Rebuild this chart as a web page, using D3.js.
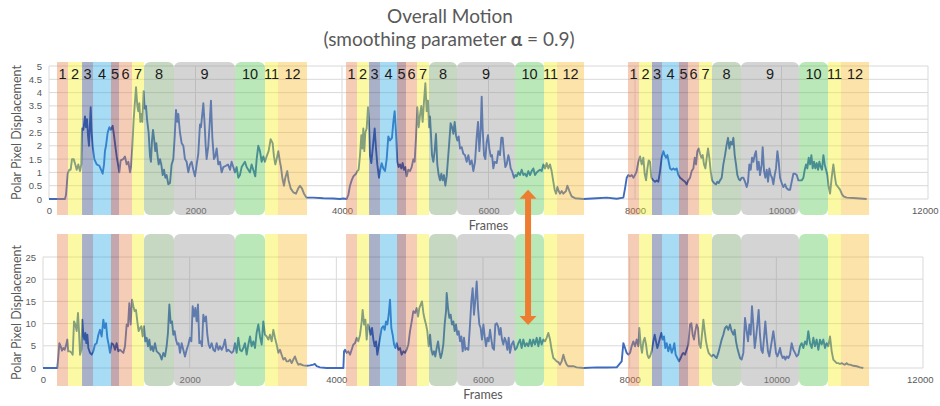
<!DOCTYPE html>
<html>
<head>
<meta charset="utf-8">
<script src="https://cdn.jsdelivr.net/npm/d3@7"></script>
<style>
  body { margin: 0; background: #fff; }
  svg { display: block; font-family: Lato, "Open Sans", sans-serif; }
  .tick text { fill: #595959; font-size: 9.5px; }
  .grid line { stroke: #d9d9d9; stroke-width: 1; }
</style>
</head>
<body>
<svg id="chart" width="940" height="406"></svg>
<script>
// --- data ---
const xTicks = [0, 2000, 4000, 6000, 8000, 10000, 12000];
const topYTicks = [0, 0.5, 1, 1.5, 2, 2.5, 3, 3.5, 4, 4.5, 5];
const bottomYTicks = [0, 5, 10, 15, 20, 25];

const bandLabels = ["1", "2", "3", "4", "5", "6", "7", "8", "9", "10", "11", "12"];
// band edges (frames) for the three repetitions
const group1Edges = [109, 259, 451, 601, 846, 956, 1133, 1297, 1706, 2539, 2949, 3126, 3522];
const group2Edges = [4055, 4205, 4369, 4519, 4751, 4874, 5024, 5188, 5570, 6362, 6758, 6935, 7304];
const group3Edges = [7904, 8055, 8232, 8369, 8601, 8724, 8874, 9051, 9447, 10239, 10635, 10812, 11195];

// [frame, displacement] smoothed, alpha = 0.9
const topSeries = [
  [0,0],[218,0],[232,0.15],[255,0.95],[278,1.1],[296,1.1],[314,1.5],[337,1.5],[359,1.3],[378,1.1],[400,1.3],[423,1.05],[441,1.3],
  [450,2.65],[469,2.6],[491,3.1],[505,2.7],[519,3.0],[532,2.4],[546,2.0],[569,3.45],[582,2.5],[596,2.0],[619,1.5],[651,1.3],
  [687,1.25],[710,1.1],[733,0.95],[751,1.3],[764,1.8],[778,2.0],[801,2.5],[824,2.7],[842,2.6],[869,2.75],[887,2.4],[905,2.0],
  [924,1.6],[942,1.3],[960,1.0],[978,1.45],[1015,1.5],[1037,1.6],[1060,1.3],[1083,1.4],[1106,1.0],[1119,1.2],[1138,2.0],
  [1156,3.0],[1188,4.2],[1206,3.5],[1219,3.3],[1233,3.6],[1247,2.9],[1260,3.2],[1274,2.9],[1292,4.05],[1306,3.4],[1324,3.5],
  [1338,3.0],[1360,2.5],[1379,1.6],[1392,1.4],[1406,2.2],[1420,2.6],[1433,2.3],[1451,1.8],[1465,2.1],[1479,1.7],[1497,1.3],
  [1515,1.5],[1533,1.3],[1552,0.9],[1570,1.1],[1588,0.8],[1606,0.9],[1629,0.55],[1652,0.6],[1674,1.3],[1697,1.5],[1715,2.3],
  [1734,3.35],[1752,2.9],[1765,3.2],[1788,2.5],[1811,2.1],[1834,2.0],[1856,1.5],[1879,1.4],[1902,1.0],[1925,1.3],[1947,1.4],
  [1970,1.1],[1993,0.85],[2016,1.3],[2038,1.7],[2061,2.8],[2075,2.7],[2107,3.6],[2125,2.8],[2139,2.0],[2152,1.5],[2175,2.0],
  [2193,2.8],[2211,3.7],[2230,2.3],[2252,1.5],[2270,1.6],[2289,1.9],[2311,1.3],[2334,1.4],[2357,1.0],[2380,1.2],[2416,1.25],
  [2443,1.3],[2471,1.1],[2493,1.4],[2516,1.2],[2539,1.0],[2562,1.2],[2584,0.8],[2607,0.9],[2630,1.2],[2675,1.4],[2698,1.2],
  [2744,1.0],[2766,1.3],[2789,1.1],[2816,0.85],[2835,1.5],[2857,2.0],[2880,1.8],[2903,1.4],[2926,1.6],[2948,1.4],[2971,1.6],
  [2998,1.8],[3026,2.25],[3053,2.1],[3071,1.6],[3089,1.3],[3108,1.5],[3130,1.8],[3153,1.4],[3167,1.2],[3185,0.8],[3208,0.5],
  [3226,0.8],[3253,1.05],[3271,0.7],[3299,0.4],[3335,0.25],[3372,0.2],[3403,0.4],[3426,0.5],[3453,0.4],[3481,0.2],[3517,0.05],
  [3608,0.05],[3745,0.03],[3881,0.02],[3972,0],
  [4018,0.02],[4064,0],[4086,0.15],[4109,0.5],[4132,0.7],[4155,0.85],[4191,0.95],[4209,1.05],[4227,1.1],[4246,1.65],[4264,2.4],
  [4277,1.9],[4291,2.65],[4305,1.8],[4318,2.5],[4337,2.65],[4355,3.45],[4368,2.9],[4382,1.65],[4400,1.35],[4428,2.15],[4446,2.65],
  [4464,1.9],[4482,1.3],[4505,0.8],[4519,1.05],[4541,1.35],[4564,1.15],[4587,1.05],[4610,1.5],[4632,2.35],[4655,2.2],[4682,2.3],
  [4701,2.9],[4719,3.3],[4737,2.5],[4755,1.4],[4773,1.2],[4792,1.3],[4810,1.15],[4828,1.35],[4846,1.1],[4865,1.2],[4883,0.85],
  [4905,1.1],[4928,1.05],[4951,1.2],[4974,1.5],[4992,1.4],[5010,2.3],[5028,3.45],[5047,2.7],[5065,3.15],[5083,3.5],[5101,2.9],
  [5119,3.65],[5138,4.35],[5156,3.3],[5174,3.7],[5188,2.7],[5201,3.1],[5215,2.4],[5229,1.65],[5247,1.4],[5265,1.8],[5283,2.45],
  [5301,1.3],[5320,0.9],[5338,0.7],[5356,0.95],[5374,0.7],[5392,0.9],[5411,0.5],[5429,0.85],[5447,1.5],[5465,2.15],[5483,2.85],
  [5502,2.7],[5520,2.45],[5538,2.9],[5556,2.4],[5574,2.2],[5593,2.35],[5611,1.9],[5634,1.95],[5656,1.7],[5679,1.65],[5702,1.4],
  [5725,1.65],[5747,1.3],[5770,1.45],[5793,1.05],[5816,1.4],[5838,2.3],[5857,2.9],[5875,1.8],[5893,2.6],[5907,3.85],[5920,2.65],
  [5939,1.65],[5957,1.5],[5975,2.15],[5993,2.4],[6011,1.9],[6030,1.6],[6048,1.65],[6066,1.15],[6084,1.4],[6112,1.35],[6134,1.8],
  [6157,1.65],[6175,2.3],[6193,2.3],[6212,1.65],[6230,1.2],[6248,1.3],[6271,1.65],[6284,1.5],[6303,1.15],[6321,1.05],[6348,0.8],
  [6366,0.9],[6385,0.85],[6407,1.0],[6430,0.9],[6453,1.1],[6476,0.9],[6498,0.95],[6521,0.85],[6544,1.05],[6567,0.9],[6589,1.05],
  [6612,1.15],[6635,0.9],[6658,1.0],[6680,1.05],[6703,1.1],[6726,1.05],[6749,1.3],[6771,1.15],[6794,1.35],[6817,1.15],[6840,1.3],
  [6862,1.05],[6885,0.65],[6903,0.35],[6922,0.2],[6940,0.45],[6958,0.3],[6976,0.2],[6999,0.3],[7022,0.2],[7058,0.3],[7076,0.5],
  [7104,0.3],[7135,0.1],[7181,0.03],[7295,0],[7477,0.03],[7613,0.05],[7750,0.01],[7841,0.05],
  [7864,0.4],[7887,0.8],[7909,0.9],[7932,0.85],[7955,0.9],[7978,0.8],[8000,0.9],[8023,1.05],[8046,1.4],[8069,1.6],[8091,1.3],
  [8114,1.55],[8132,0.95],[8151,0.7],[8169,1.15],[8187,1.45],[8205,1.4],[8223,0.8],[8251,0.7],[8273,0.65],[8296,0.7],[8319,0.65],
  [8342,1.05],[8364,1.55],[8387,1.8],[8405,1.65],[8424,1.55],[8442,1.65],[8460,1.4],[8478,1.15],[8501,1.1],[8524,1.15],[8546,1.1],
  [8569,1.15],[8592,0.9],[8615,0.8],[8637,0.75],[8660,0.7],[8683,0.65],[8706,0.55],[8728,0.7],[8751,0.8],[8774,1.05],[8797,1.15],
  [8815,1.55],[8833,1.3],[8851,1.8],[8870,1.9],[8888,1.7],[8906,1.55],[8924,1.65],[8942,1.3],[8961,1.15],[8979,1.55],[8997,1.9],
  [9015,1.55],[9033,1.05],[9052,0.7],[9079,0.6],[9106,0.55],[9124,0.65],[9143,0.6],[9161,0.7],[9184,0.8],[9206,1.3],[9229,1.65],
  [9252,2.05],[9270,2.3],[9288,1.9],[9306,2.15],[9325,2.05],[9343,2.3],[9361,1.65],[9379,1.3],[9397,0.9],[9416,0.75],[9434,0.7],
  [9457,0.8],[9479,0.8],[9502,0.65],[9525,0.45],[9543,0.65],[9561,1.3],[9580,1.1],[9598,1.55],[9616,1.4],[9634,1.65],[9652,1.8],
  [9671,1.1],[9689,1.4],[9707,0.9],[9730,1.3],[9743,1.95],[9762,1.05],[9780,0.8],[9798,1.1],[9816,0.65],[9834,1.15],[9853,0.9],
  [9871,0.8],[9889,0.55],[9907,0.9],[9925,1.15],[9944,1.8],[9962,1.4],[9980,0.8],[10003,0.6],[10026,0.45],[10048,0.55],[10071,0.4],
  [10094,0.35],[10117,0.35],[10139,0.65],[10162,0.95],[10185,0.95],[10208,0.9],[10230,0.7],[10253,0.7],[10276,0.7],[10299,0.8],
  [10317,1.1],[10335,1.3],[10353,1.15],[10371,1.55],[10390,1.3],[10408,1.65],[10426,1.15],[10444,1.4],[10462,1.15],[10481,1.35],
  [10499,1.1],[10517,1.4],[10535,1.2],[10553,1.1],[10572,1.65],[10590,1.3],[10608,1.1],[10626,0.9],[10644,0.45],[10663,0.2],
  [10685,0.8],[10708,1.3],[10726,0.9],[10745,0.55],[10772,0.45],[10799,0.35],[10822,0.2],[10845,0.1],[10890,0.05],[11027,0.03],
  [11163,0]
];

const bottomSeries = [
  [0,0],[195,0],[209,2.6],[223,5.6],[241,4.9],[259,3.9],[277,4.5],[295,4.1],[314,5.1],[332,6.4],[345,3.75],[368,3.75],[391,3.4],
  [405,3.0],[423,10.5],[441,9.8],[459,8.3],[477,12.4],[491,8.3],[505,3.0],[523,4.1],[536,10.9],[550,7.5],[564,6.4],[577,7.9],
  [591,5.6],[605,7.5],[618,4.5],[641,3.4],[664,3.0],[686,3.75],[709,5.3],[732,5.6],[755,7.5],[777,8.6],[800,7.1],[823,10.9],
  [841,9.0],[859,10.1],[877,6.8],[895,5.3],[914,3.4],[936,5.6],[959,5.3],[982,4.1],[1004,5.6],[1027,3.75],[1050,4.1],[1073,3.75],
  [1095,3.4],[1118,4.9],[1141,9.8],[1159,9.4],[1177,14.6],[1195,9.8],[1214,15.4],[1232,13.9],[1250,12.8],[1268,13.1],[1286,10.5],
  [1304,8.3],[1323,9.0],[1341,9.4],[1359,7.1],[1377,9.4],[1395,6.0],[1414,6.8],[1432,4.9],[1450,6.4],[1468,4.1],[1486,4.9],
  [1504,3.75],[1527,5.6],[1550,3.75],[1573,3.4],[1595,3.0],[1618,1.9],[1641,3.4],[1664,2.6],[1686,4.9],[1704,7.9],[1723,14.3],
  [1741,10.1],[1759,10.5],[1777,7.5],[1795,8.3],[1813,6.4],[1832,5.3],[1850,5.6],[1868,3.4],[1891,5.6],[1913,4.1],[1936,2.6],
  [1959,4.1],[1982,5.3],[2004,6.8],[2023,6.0],[2041,13.9],[2059,11.6],[2077,13.5],[2095,10.5],[2113,14.3],[2132,5.6],[2150,6.0],
  [2168,4.9],[2186,12.0],[2204,10.5],[2223,11.6],[2241,7.5],[2259,5.3],[2277,4.5],[2300,5.6],[2323,4.1],[2345,3.75],[2368,5.6],
  [2391,4.1],[2413,4.9],[2436,4.1],[2459,4.9],[2482,6.4],[2504,3.75],[2527,4.1],[2550,3.75],[2573,3.4],[2595,3.75],[2618,5.6],
  [2641,3.4],[2663,6.8],[2686,4.1],[2709,3.75],[2732,4.5],[2754,5.6],[2777,3.0],[2800,5.3],[2823,7.1],[2845,4.9],[2868,6.0],
  [2891,4.5],[2913,7.9],[2936,9.8],[2959,7.1],[2982,5.3],[3004,10.5],[3027,7.5],[3050,7.1],[3073,6.4],[3095,7.5],[3118,6.0],
  [3141,8.6],[3163,6.8],[3186,5.3],[3209,3.4],[3232,4.1],[3254,3.0],[3277,1.9],[3300,2.25],[3322,1.5],[3345,1.5],[3368,1.9],
  [3391,1.1],[3413,1.9],[3436,2.6],[3459,1.5],[3482,0.75],[3504,0.9],[3550,0.6],[3595,0.5],[3641,0.6],[3686,0.75],[3709,0.9],
  [3732,0.4],[3777,0.15],[3868,0],
  [4096,0],[4105,3.75],[4119,4.1],[4141,3.4],[4164,3.75],[4187,3.0],[4209,4.1],[4232,5.3],[4255,5.6],[4278,6.8],[4300,6.0],
  [4323,7.5],[4346,10.5],[4359,13.1],[4378,9.8],[4396,10.9],[4414,6.4],[4432,9.8],[4450,9.0],[4468,7.5],[4487,9.0],[4505,6.4],
  [4523,4.9],[4541,6.0],[4559,3.0],[4578,4.9],[4596,6.8],[4618,9.0],[4641,9.4],[4659,8.6],[4678,10.5],[4696,9.8],[4714,12.0],
  [4732,15.4],[4750,9.0],[4768,7.5],[4787,5.3],[4805,4.5],[4823,5.6],[4846,4.1],[4868,4.5],[4891,3.0],[4914,3.75],[4937,3.4],
  [4959,4.1],[4982,5.3],[5005,8.3],[5028,10.5],[5050,12.8],[5073,12.4],[5096,13.5],[5114,11.6],[5132,13.5],[5150,14.3],[5168,15.0],
  [5187,12.4],[5205,10.9],[5223,9.8],[5241,8.3],[5259,4.9],[5278,7.5],[5296,4.1],[5314,3.0],[5332,3.75],[5350,2.6],[5368,4.5],
  [5387,6.0],[5405,3.75],[5423,2.25],[5441,3.4],[5459,5.3],[5477,9.8],[5496,12.8],[5505,16.9],[5523,13.5],[5541,11.3],[5559,12.0],
  [5577,9.8],[5596,10.5],[5614,8.3],[5632,9.8],[5650,7.5],[5668,8.3],[5687,6.0],[5705,7.1],[5723,3.75],[5741,6.8],[5759,4.1],
  [5777,4.5],[5800,4.1],[5823,9.8],[5841,15.0],[5859,18.0],[5877,12.0],[5896,15.4],[5914,19.5],[5932,13.5],[5950,9.8],[5968,9.0],
  [5986,6.4],[6005,9.8],[6023,7.1],[6041,4.9],[6059,6.8],[6077,6.0],[6096,8.6],[6114,6.4],[6132,4.5],[6150,4.1],[6168,9.8],
  [6187,10.1],[6205,9.4],[6223,7.5],[6241,9.0],[6259,6.4],[6277,5.3],[6296,6.8],[6314,6.0],[6332,4.1],[6350,6.8],[6368,3.4],
  [6391,5.3],[6414,6.0],[6437,4.1],[6459,4.5],[6482,5.6],[6505,6.4],[6527,4.5],[6550,6.4],[6573,4.9],[6596,5.6],[6618,4.9],
  [6641,6.4],[6664,4.9],[6686,6.4],[6709,5.3],[6732,6.8],[6755,4.9],[6777,6.8],[6800,5.3],[6823,6.4],[6846,6.0],[6868,6.8],
  [6891,7.9],[6914,6.4],[6936,4.1],[6959,2.25],[6982,1.9],[7005,1.5],[7027,1.35],[7050,0.75],[7073,1.5],[7096,3.0],[7118,1.65],
  [7141,0.75],[7164,0.4],[7232,0.4],[7277,0.15],[7368,0],[7550,0.15],[7686,0.1],[7823,0.15],
  [7891,1.5],[7914,5.6],[7937,4.5],[7959,3.4],[7982,3.0],[8005,3.4],[8027,4.9],[8050,6.0],[8073,4.9],[8096,6.4],[8118,4.9],
  [8132,9.0],[8150,5.3],[8168,3.4],[8187,6.0],[8205,6.8],[8223,5.3],[8241,3.0],[8259,2.25],[8277,2.6],[8300,3.75],[8323,6.0],
  [8341,7.5],[8359,6.0],[8377,4.5],[8396,5.6],[8414,6.8],[8432,7.9],[8450,6.4],[8468,7.1],[8486,4.5],[8505,5.6],[8527,3.75],
  [8550,5.3],[8573,3.4],[8595,4.5],[8609,5.6],[8627,3.0],[8650,2.25],[8673,1.5],[8695,2.25],[8714,3.0],[8732,3.4],[8755,3.0],
  [8777,4.1],[8800,5.3],[8823,9.8],[8841,10.1],[8859,7.5],[8877,6.4],[8895,8.3],[8914,9.8],[8932,9.0],[8950,5.3],[8968,4.5],
  [8986,7.5],[9005,10.9],[9023,8.3],[9041,6.0],[9059,4.5],[9077,3.4],[9095,3.0],[9118,2.6],[9141,3.0],[9164,2.6],[9186,2.25],
  [9209,3.4],[9232,4.9],[9255,6.4],[9277,7.5],[9300,9.0],[9323,9.4],[9346,8.6],[9368,9.8],[9391,8.3],[9414,7.5],[9432,8.6],
  [9450,6.0],[9468,4.5],[9486,3.4],[9505,2.25],[9527,1.9],[9550,3.4],[9573,11.3],[9595,8.3],[9614,6.0],[9632,9.8],[9650,7.5],
  [9668,13.9],[9686,9.8],[9705,4.5],[9723,6.8],[9741,9.8],[9759,13.1],[9777,7.5],[9795,4.1],[9814,3.4],[9832,6.8],[9850,10.5],
  [9868,6.8],[9886,3.75],[9905,2.6],[9923,4.5],[9941,6.4],[9959,8.3],[9977,6.0],[9995,3.4],[10014,2.6],[10032,3.4],[10050,4.5],
  [10068,3.0],[10086,2.25],[10105,2.6],[10123,1.9],[10141,2.6],[10164,2.25],[10186,3.0],[10209,5.6],[10232,4.1],[10255,3.4],
  [10277,2.6],[10300,3.0],[10323,4.9],[10345,5.6],[10368,4.5],[10391,6.0],[10414,5.3],[10436,8.3],[10459,5.6],[10482,4.5],
  [10505,6.8],[10527,4.9],[10550,6.4],[10573,4.1],[10595,6.4],[10618,5.3],[10641,6.4],[10664,4.5],[10686,5.6],[10709,4.9],
  [10732,7.1],[10755,3.75],[10777,1.9],[10800,1.5],[10823,1.1],[10845,1.1],[10868,0.9],[10891,1.1],[10914,0.9],[10936,0.75],
  [10959,1.1],[10982,0.75],[11005,0.75],[11050,0.5],[11095,0.4],[11141,0.15],[11186,0]
];

// annotation arrow (frame, value in top panel, value in bottom panel)
const arrowFrame = 6540;
const arrowTopValue = 0.35;
const arrowBottomValue = 9.7;

// --- layout and style ---
const CONFIG = {
  top: { left: 49, right: 928, y0: 199, y1: 66, bandTop: 62, bandBottom: 215 },
  bottom: { left: 43, right: 923, y0: 368, y1: 257, bandTop: 234, bandBottom: 386 },
  bandFills: ["#e68248", "#f5f019", "#283c78", "#25a7e3", "#692332", "#e68248",
              "#f5f019", "#709b66", "#939393", "#55c54d", "#f5f019", "#f7b92a"],
  bandOpacity: 0.4,
  roundedBands: [7, 8, 9],
  lineColor: "#3f6bbf",
  textColor: "#595959",
  arrowColor: "#ed7d31"
};

const svg = d3.select("#chart");

// title
svg.append("text")
  .attr("x", 450).attr("y", 23)
  .attr("text-anchor", "middle")
  .attr("fill", CONFIG.textColor)
  .style("font-size", "19px")
  .text("Overall Motion");

const sub = svg.append("text")
  .attr("x", 449).attr("y", 46)
  .attr("text-anchor", "middle")
  .attr("fill", CONFIG.textColor)
  .style("font-size", "19px");
sub.append("tspan").text("(smoothing parameter ");
sub.append("tspan").style("font-weight", "bold").text("α");
sub.append("tspan").text(" = 0.9)");

const xTop = d3.scaleLinear().domain([0, 12000]).range([CONFIG.top.left, CONFIG.top.right]);
const yTop = d3.scaleLinear().domain([0, 5]).range([CONFIG.top.y0, CONFIG.top.y1]);
const xBottom = d3.scaleLinear().domain([0, 12000]).range([CONFIG.bottom.left, CONFIG.bottom.right]);
const yBottom = d3.scaleLinear().domain([0, 25]).range([CONFIG.bottom.y0, CONFIG.bottom.y1]);

function bandData() {
  const out = [];
  [group1Edges, group2Edges, group3Edges].forEach(edges => {
    bandLabels.forEach((label, i) => {
      out.push({ label, i, start: edges[i], end: edges[i + 1] });
    });
  });
  return out;
}

/**
 * draws one panel: grid, axes, line, bands (bands go over the line, translucent)
 */
function drawPanel(layout, x, y, yTicks, series, showLabels) {
  const g = svg.append("g");

  // gridlines
  const grid = g.append("g").attr("class", "grid");
  grid.selectAll("line.h").data(yTicks).join("line")
    .attr("class", "h")
    .attr("x1", layout.left).attr("x2", layout.right)
    .attr("y1", d => y(d)).attr("y2", d => y(d));
  grid.selectAll("line.v").data(xTicks).join("line")
    .attr("class", "v")
    .attr("x1", d => x(d)).attr("x2", d => x(d))
    .attr("y1", layout.y1).attr("y2", layout.y0);

  // axes, labels only
  g.append("g")
    .attr("transform", `translate(${layout.left},0)`)
    .call(d3.axisLeft(y).tickValues(yTicks).tickFormat(d => String(d)).tickSize(0).tickPadding(7))
    .call(a => a.select(".domain").remove());
  g.append("g")
    .attr("transform", `translate(0,${layout.y0})`)
    .call(d3.axisBottom(x).tickValues(xTicks).tickFormat(d3.format("d")).tickSize(0).tickPadding(8))
    .call(a => a.select(".domain").remove())
    // last label would run past the page edge, pull it in a bit
    .call(a => a.selectAll(".tick text").filter(d => d === 12000)
      .attr("text-anchor", "end").attr("dx", 10));

  // the series
  const line = d3.line().x(d => x(d[0])).y(d => y(d[1]));
  g.append("path")
    .datum(series)
    .attr("fill", "none")
    .attr("stroke", CONFIG.lineColor)
    .attr("stroke-width", 1.9)
    .attr("stroke-linejoin", "round")
    .attr("d", line);

  // phase bands on top (same pixel spots in both panels, so use the top x scale)
  g.append("g").selectAll("rect").data(bandData()).join("rect")
    .attr("x", d => xTop(d.start))
    .attr("width", d => xTop(d.end) - xTop(d.start))
    .attr("y", layout.bandTop)
    .attr("height", layout.bandBottom - layout.bandTop)
    .attr("rx", d => CONFIG.roundedBands.includes(d.i) ? 6 : 0)
    .attr("fill", d => CONFIG.bandFills[d.i])
    .attr("fill-opacity", CONFIG.bandOpacity);

  if (showLabels) {
    g.append("g").selectAll("text").data(bandData()).join("text")
      .attr("x", d => xTop((d.start + d.end) / 2))
      .attr("y", layout.bandTop + 12)
      .attr("dy", "0.35em")
      .attr("text-anchor", "middle")
      .attr("fill", "#1a1a1a")
      .style("font-family", "'Liberation Sans', Arial, sans-serif")
      .style("font-size", "14.5px")
      .text(d => d.label);
  }

  // axis titles
  g.append("text")
    .attr("transform", `translate(17,${(layout.y0 + layout.y1) / 2}) rotate(-90)`)
    .attr("text-anchor", "middle")
    .attr("dy", "0.35em")
    .attr("fill", CONFIG.textColor)
    .style("font-size", "12.5px")
    .text("Polar Pixel Displacement");
  g.append("text")
    .attr("x", x(6000)).attr("y", layout.y0 + 31)
    .attr("text-anchor", "middle")
    .attr("fill", CONFIG.textColor)
    .style("font-size", "12.5px")
    .text("Frames");
}

drawPanel(CONFIG.top, xTop, yTop, topYTicks, topSeries, true);
drawPanel(CONFIG.bottom, xBottom, yBottom, bottomYTicks, bottomSeries, false);

// double headed arrow between the panels
function drawArrow() {
  const ax = xTop(arrowFrame);
  const y1 = yTop(arrowTopValue);
  const y2 = yBottom(arrowBottomValue);
  const head = 9, half = 8.5, shaft = 3;
  const pts = [
    [ax, y1], [ax + half, y1 + head], [ax + shaft, y1 + head],
    [ax + shaft, y2 - head], [ax + half, y2 - head], [ax, y2],
    [ax - half, y2 - head], [ax - shaft, y2 - head],
    [ax - shaft, y1 + head], [ax - half, y1 + head]
  ];
  svg.append("path")
    .attr("d", d3.line()(pts) + "Z")
    .attr("fill", CONFIG.arrowColor);
}
drawArrow();
</script>
</body>
</html>
